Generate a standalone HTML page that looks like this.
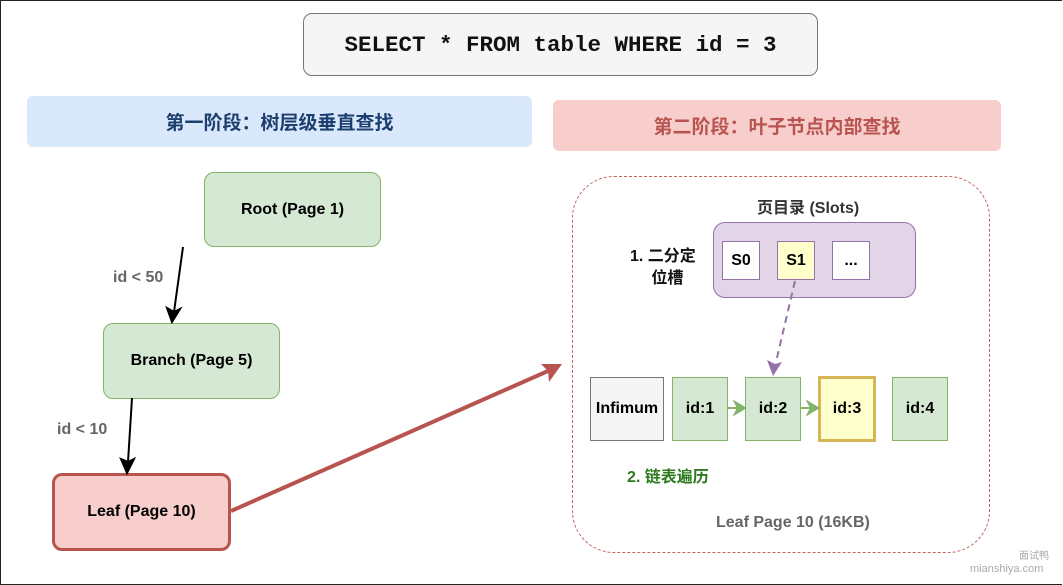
<!DOCTYPE html>
<html><head><meta charset="utf-8"><style>
body{margin:0;width:1063px;height:585px;overflow:hidden;background:#fff;font-family:"Liberation Sans","Noto Sans CJK SC",sans-serif;}
#f{position:absolute;left:0;top:0;width:1061px;height:583px;border:1px solid #222;border-right:none;}
.b{position:absolute;box-sizing:border-box;display:flex;align-items:center;justify-content:center;font-weight:bold;text-align:center;}
.t{position:absolute;font-weight:bold;white-space:nowrap;}
</style></head><body><div id="f"></div>
<div class="b" style="left:303px;top:13px;width:515px;height:63px;background:#f5f5f5;border:1px solid #777;border-radius:9px;font-family:'Liberation Mono',monospace;font-size:22.5px;color:#111;">SELECT * FROM table WHERE id = 3</div>
<div class="b" style="left:27px;top:96px;width:505px;height:51px;background:#dae8fc;border-radius:6px;font-size:19px;color:#1d3f6e;">第一阶段：树层级垂直查找</div>
<div class="b" style="left:553px;top:100px;width:448px;height:51px;background:#f8cecc;border-radius:6px;font-size:19px;color:#b85450;">第二阶段：叶子节点内部查找</div>
<div class="b" style="left:204px;top:172px;width:177px;height:75px;background:#d5e8d4;border:1px solid #82b366;border-radius:10px;font-size:16px;">Root (Page 1)</div>
<div class="b" style="left:103px;top:323px;width:177px;height:76px;background:#d5e8d4;border:1px solid #82b366;border-radius:10px;font-size:16px;">Branch (Page 5)</div>
<div class="b" style="left:52px;top:473px;width:179px;height:78px;background:#f8cecc;border:3px solid #b85450;border-radius:10px;font-size:16px;">Leaf (Page 10)</div>
<div class="t" style="left:113px;top:269px;font-size:16px;color:#666;">id &lt; 50</div>
<div class="t" style="left:57px;top:421px;font-size:16px;color:#666;">id &lt; 10</div>
<div style="position:absolute;left:572px;top:176px;width:418px;height:377px;box-sizing:border-box;border:1.5px dashed #c0645f;border-radius:42px;"></div>
<div class="t" style="left:757px;top:194px;font-size:16px;color:#333;">页目录 (Slots)</div>
<div style="position:absolute;left:713px;top:222px;width:203px;height:76px;box-sizing:border-box;background:#e1d5e7;border:1px solid #9673a6;border-radius:12px;"></div>
<div class="b" style="left:722px;top:241px;width:38px;height:39px;background:#fff;border:1px solid #9673a6;font-size:16px;">S0</div>
<div class="b" style="left:777px;top:241px;width:38px;height:39px;background:#ffffcc;border:1px solid #9673a6;font-size:16px;">S1</div>
<div class="b" style="left:832px;top:241px;width:38px;height:39px;background:#fff;border:1px solid #9673a6;font-size:16px;">...</div>
<div class="t" style="left:630px;top:246px;font-size:16px;color:#111;line-height:22px;text-align:center;">1. 二分定<br>&nbsp;&nbsp;位槽</div>
<div class="b" style="left:590px;top:377px;width:74px;height:64px;background:#f5f5f5;border:1px solid #777;font-size:16px;">Infimum</div>
<div class="b" style="left:672px;top:377px;width:56px;height:64px;background:#d5e8d4;border:1px solid #82b366;font-size:16px;">id:1</div>
<div class="b" style="left:745px;top:377px;width:56px;height:64px;background:#d5e8d4;border:1px solid #82b366;font-size:16px;">id:2</div>
<div class="b" style="left:818px;top:376px;width:58px;height:66px;background:#ffffcc;border:3px solid #d6b656;font-size:16px;">id:3</div>
<div class="b" style="left:892px;top:377px;width:56px;height:64px;background:#d5e8d4;border:1px solid #82b366;font-size:16px;">id:4</div>
<div class="t" style="left:627px;top:463px;font-size:16px;color:#2d7a1e;">2. 链表遍历</div>
<div class="t" style="left:716px;top:514px;font-size:16px;color:#666;">Leaf Page 10 (16KB)</div>
<div class="t" style="left:1019px;top:547px;font-size:10px;color:#aaa;font-weight:normal;">面试鸭</div>
<div class="t" style="left:970px;top:563px;font-size:11px;color:#aaa;font-weight:normal;">mianshiya.com</div>
<svg width="1063" height="585" style="position:absolute;left:0;top:0">
<g stroke="#000" stroke-width="2" fill="#000">
<line x1="183" y1="247" x2="174" y2="312"/><polygon points="172,322 167,308 174,312 180,309"/>
<line x1="132" y1="398" x2="128" y2="462"/><polygon points="127,473 121,459 128,462 134,459"/>
</g>
<line x1="231" y1="511" x2="548" y2="371" stroke="#b85450" stroke-width="4"/>
<polygon points="562,364 541,364 548,371 549,382" fill="#b85450"/>
<line x1="795" y1="281" x2="776" y2="362" stroke="#9673a6" stroke-width="2" stroke-dasharray="7,5"/>
<polygon points="773,376 767,360 775,364 782,362" fill="#9673a6"/>
<g stroke="#82b366" stroke-width="2" fill="#82b366">
<line x1="728" y1="408" x2="738" y2="408"/><polygon points="745,408 735,402 738,408 735,414"/>
<line x1="801" y1="408" x2="811" y2="408"/><polygon points="818,408 808,402 811,408 808,414"/>
</g>
</svg>
</body></html>
